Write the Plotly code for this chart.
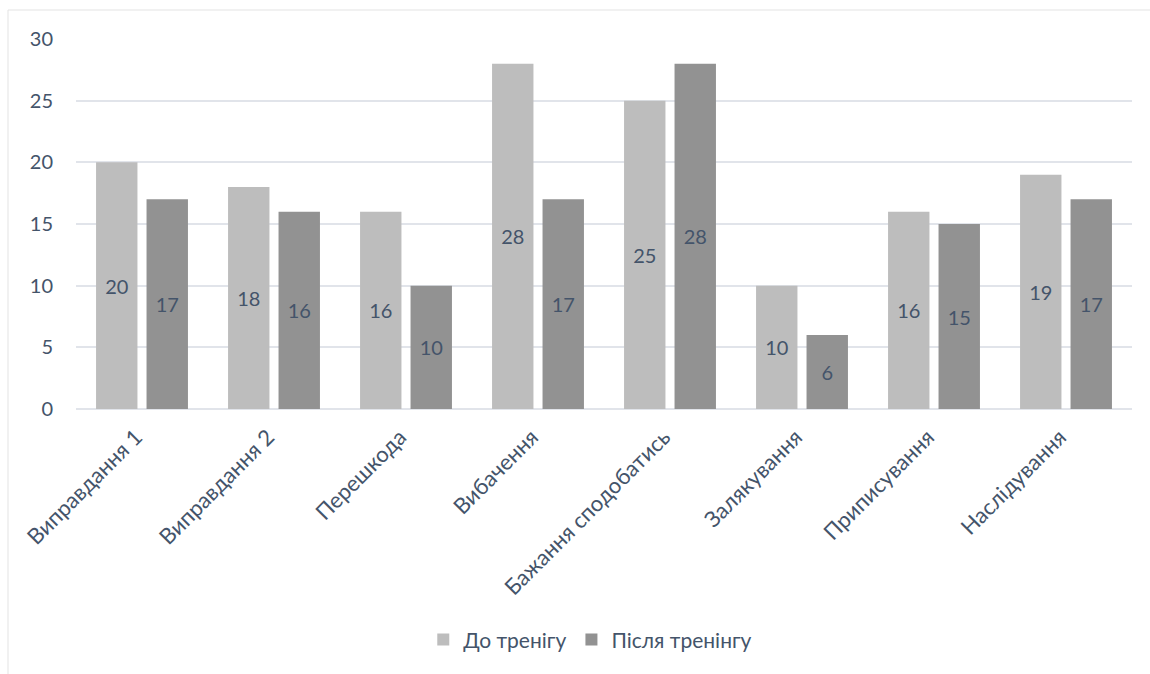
import plotly.graph_objects as go

categories = ["Виправдання 1", "Виправдання 2", "Перешкода", "Вибачення",
              "Бажання сподобатись", "Залякування", "Приписування", "Наслідування"]
before = [20, 18, 16, 28, 25, 10, 16, 19]
after = [17, 16, 10, 17, 28, 6, 15, 17]
series_names = ["До тренігу", "Після тренінгу"]
y_ticks = [0, 5, 10, 15, 20, 25, 30]

FONT = "Lato, 'Open Sans', sans-serif"
TXT = "#44546A"
FS = 20

fig = go.Figure()
fig.add_trace(go.Bar(
    x=categories, y=before, name=series_names[0],
    marker=dict(color="#BDBDBD", line=dict(width=0)),
    text=before, textposition="inside", insidetextanchor="middle",
    textfont=dict(size=FS, color=TXT, family=FONT), textangle=0,
))
fig.add_trace(go.Bar(
    x=categories, y=after, name=series_names[1],
    marker=dict(color="#929292", line=dict(width=0)),
    text=after, textposition="inside", insidetextanchor="middle",
    textfont=dict(size=FS, color=TXT, family=FONT), textangle=0,
))

fig.update_layout(
    width=1150, height=674,
    margin=dict(l=76, r=18, t=39, b=265),
    paper_bgcolor="white", plot_bgcolor="white",
    barmode="group", bargap=0.235, bargroupgap=0.18,
    font=dict(family=FONT, color=TXT, size=FS),
    uniformtext=dict(mode=False),
    showlegend=True,
    legend=dict(orientation="h", x=0.487, xanchor="center", y=-0.624, yanchor="middle",
                font=dict(size=21, color=TXT, family=FONT), traceorder="normal",
                itemwidth=30),
    xaxis=dict(tickangle=-45, showgrid=False, showline=False, ticks="",
               automargin=False, ticklabelstandoff=10, ticklabelshift=-6,
               tickfont=dict(size=22, color=TXT, family=FONT)),
    yaxis=dict(range=[0, 30], tickvals=y_ticks, showgrid=True, gridcolor="#E1E4EA",
               gridwidth=1.5, zeroline=True, zerolinecolor="#E1E4EA", zerolinewidth=1.5,
               showline=False, ticks="", ticklabelstandoff=22, automargin=False,
               tickfont=dict(size=FS, color=TXT, family=FONT)),
    shapes=[dict(type="rect", xref="paper", yref="paper",
                 x0=-68/1056, x1=1.05, y0=-0.75, y1=(409 - 10) / 370,
                 line=dict(color="#E3E3E3", width=1), fillcolor="rgba(0,0,0,0)",
                 layer="below")],
)

fig.write_html("out.html")
